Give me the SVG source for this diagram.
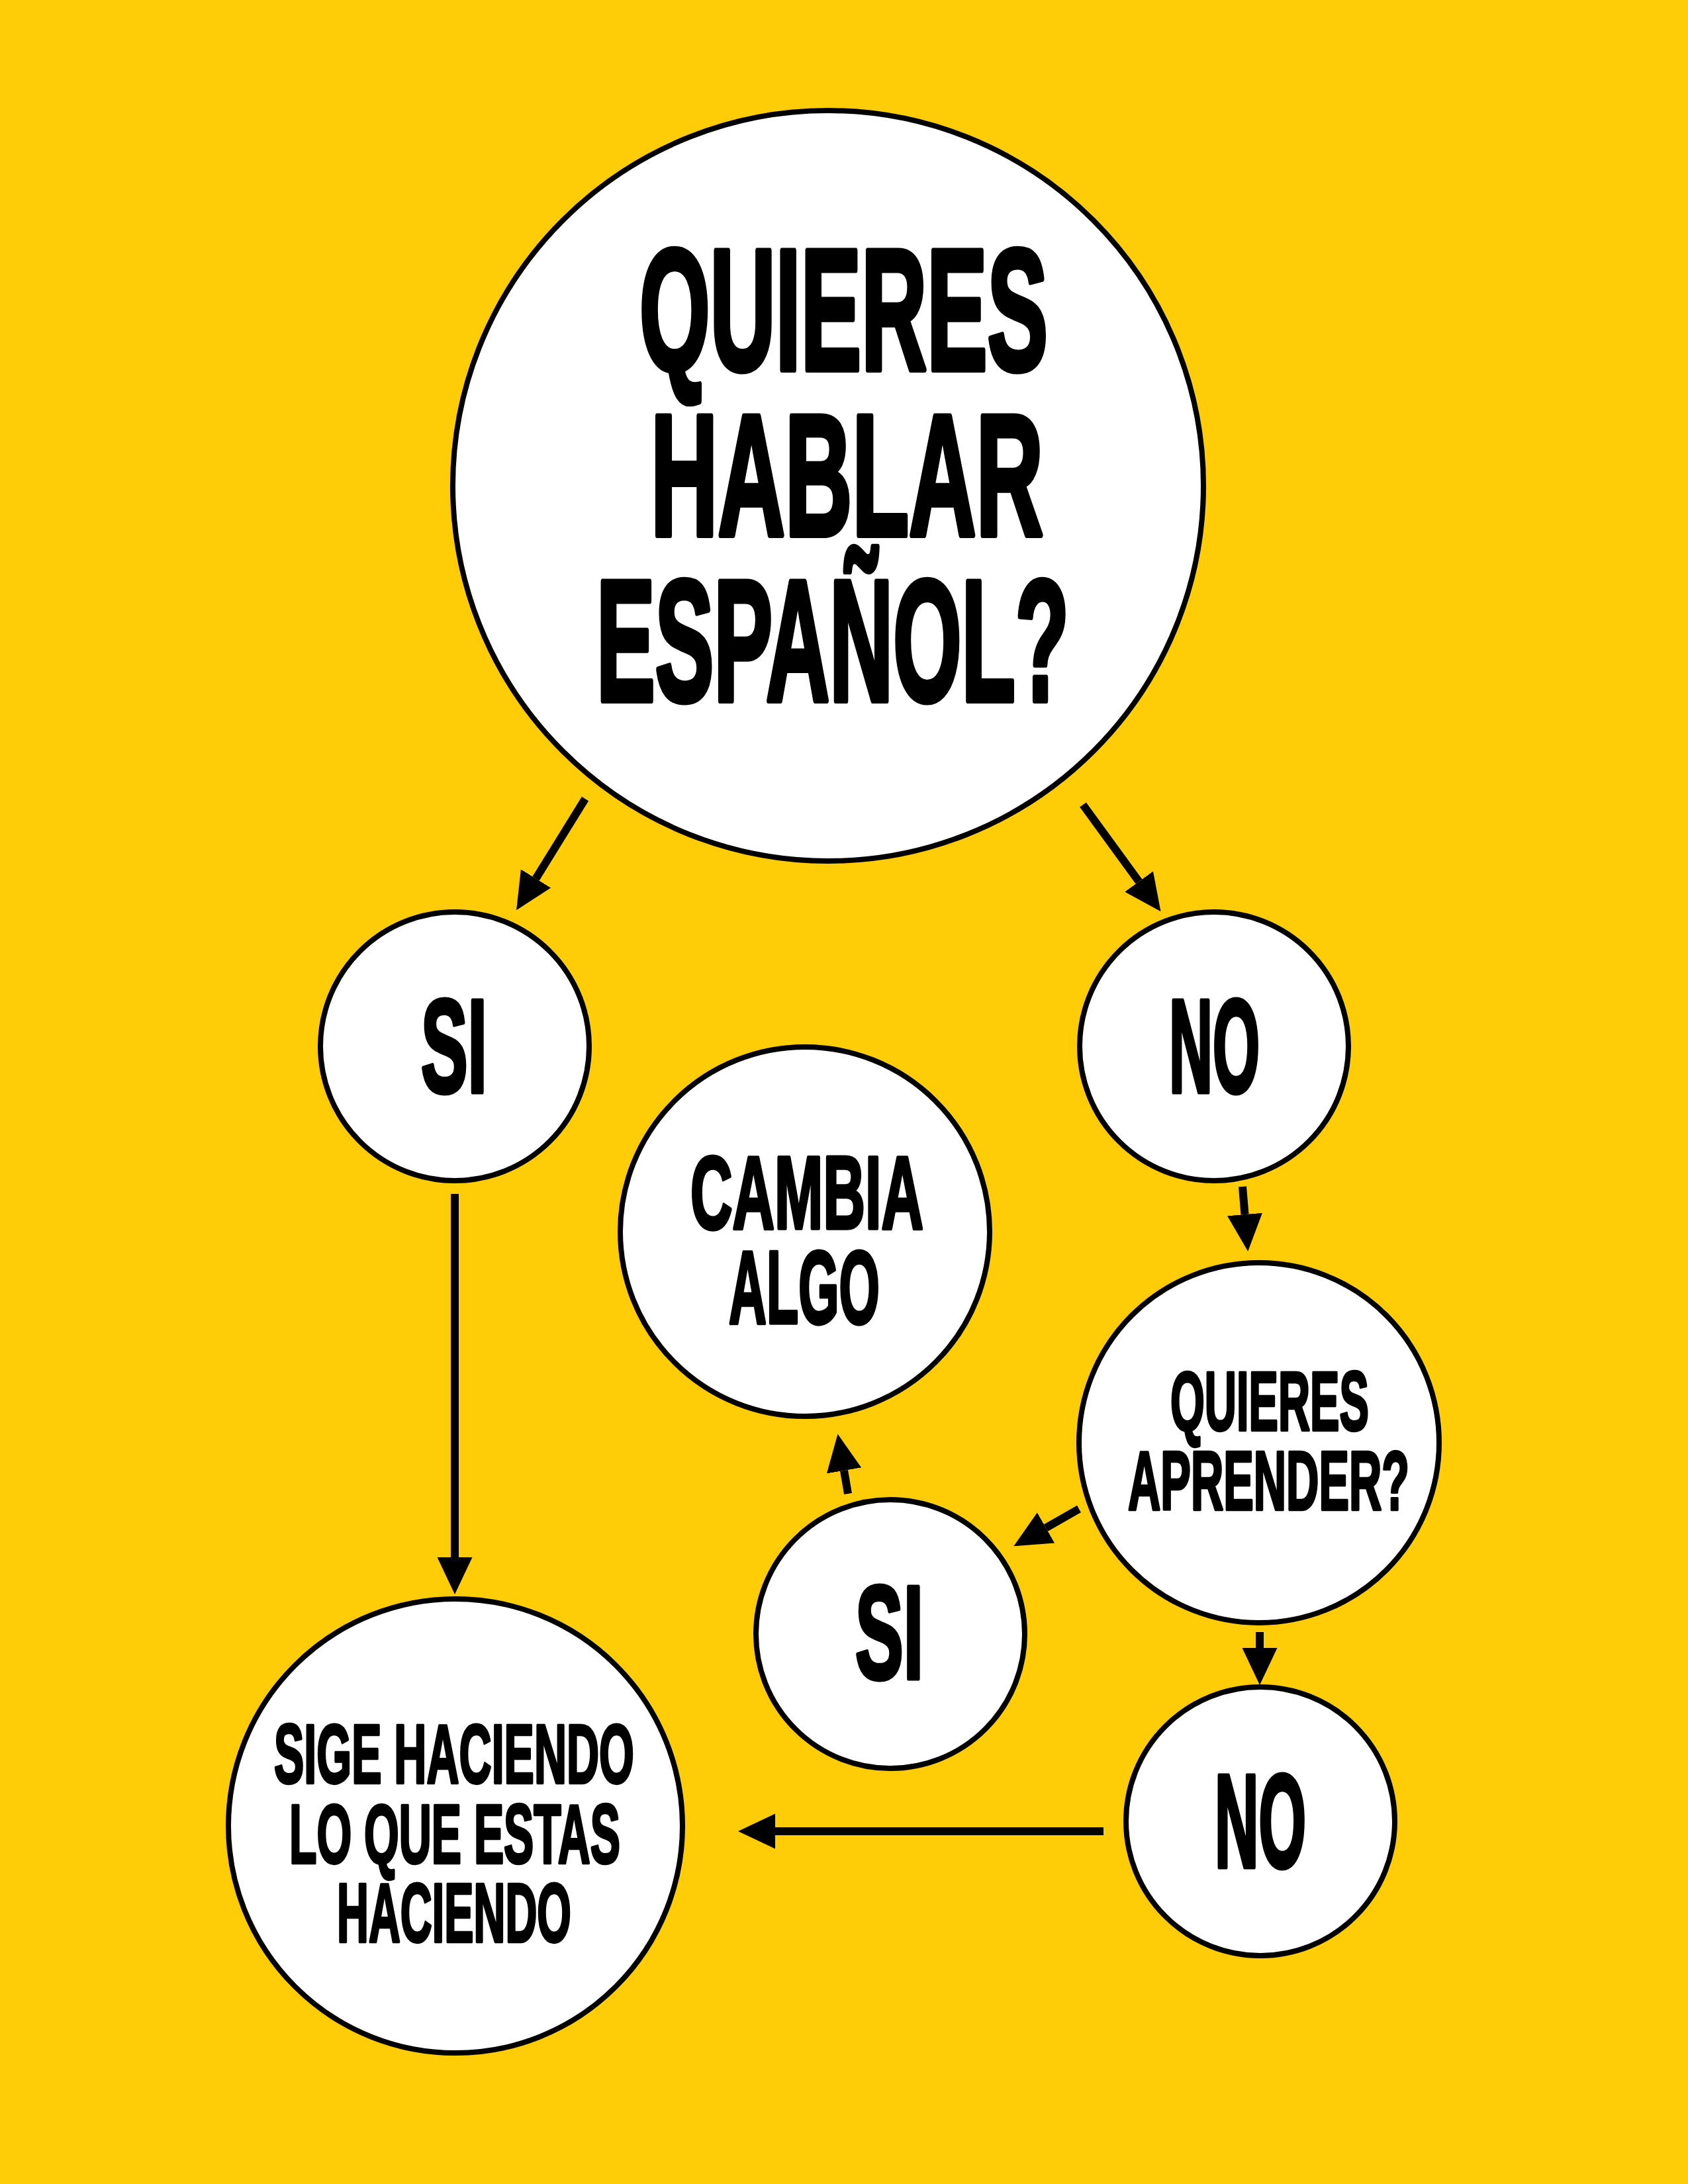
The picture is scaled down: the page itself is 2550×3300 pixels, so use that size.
<svg xmlns="http://www.w3.org/2000/svg" width="2550" height="3300" viewBox="0 0 2550 3300">
<style>
.node circle{fill:#fff;stroke:#000;stroke-width:8}
.lbl{font-family:"Liberation Sans Narrow","Liberation Sans",Arial,sans-serif;font-weight:bold;fill:#000;stroke:#000;stroke-linejoin:round}
.xl{font-size:261px;stroke-width:9}
.lg{font-size:200px;stroke-width:7}
.md{font-size:155px;stroke-width:5.4}
.sm{font-size:127px;stroke-width:4.5}
.conn line{stroke:#000;stroke-width:12;fill:none;marker-end:url(#arrow)}
</style>
<defs>
<marker id="arrow" markerUnits="userSpaceOnUse" viewBox="0 -28 58 56" refX="0" refY="0" markerWidth="58" markerHeight="56" orient="auto">
<path d="M0,-26.5 L56,0 L0,26.5 Z" fill="#000"/>
</marker>
</defs>
<rect x="0" y="0" width="2550" height="3300" fill="#FFCC08"/>
<g id="connectors" class="conn">
<line x1="884" y1="1207" x2="809.5" y2="1327.5"/>
<line x1="1636" y1="1216" x2="1720.5" y2="1332"/>
<line x1="687" y1="1804" x2="687" y2="2353"/>
<line x1="1877" y1="1793" x2="1880.5" y2="1835"/>
<line x1="1630" y1="2280" x2="1580" y2="2308.5"/>
<line x1="1281" y1="2257" x2="1275" y2="2222"/>
<line x1="1903" y1="2466" x2="1903" y2="2490"/>
<line x1="1667" y1="2767" x2="1171" y2="2767"/>
</g>
<g id="n-quieres-hablar" class="node">
<circle cx="1251" cy="734" r="567"/>
<text class="lbl xl"><tspan x="966" y="558.5" textLength="617" lengthAdjust="spacingAndGlyphs">QUIERES</tspan><tspan x="983" y="808.5" textLength="593" lengthAdjust="spacingAndGlyphs">HABLAR</tspan><tspan x="901" y="1058.5" textLength="714" lengthAdjust="spacingAndGlyphs">ESPAÑOL?</tspan></text>
</g>
<g id="n-si-1" class="node">
<circle cx="687" cy="1581" r="203"/>
<text class="lbl lg" x="636" y="1649.5" textLength="100" lengthAdjust="spacingAndGlyphs">SI</text>
</g>
<g id="n-no-1" class="node">
<circle cx="1834" cy="1581" r="203"/>
<text class="lbl lg" x="1766" y="1649.5" textLength="137" lengthAdjust="spacingAndGlyphs">NO</text>
</g>
<g id="n-cambia" class="node">
<circle cx="1216" cy="1861" r="279"/>
<text class="lbl md"><tspan x="1043" y="1856" textLength="352" lengthAdjust="spacingAndGlyphs">CAMBIA</tspan><tspan x="1101" y="1999" textLength="228" lengthAdjust="spacingAndGlyphs">ALGO</tspan></text>
</g>
<g id="n-quieres-aprender" class="node">
<circle cx="1902" cy="2180" r="272"/>
<text class="lbl sm"><tspan x="1768" y="2161" textLength="300" lengthAdjust="spacingAndGlyphs">QUIERES</tspan><tspan x="1704" y="2281" textLength="425" lengthAdjust="spacingAndGlyphs">APRENDER?</tspan></text>
</g>
<g id="n-si-2" class="node">
<circle cx="1345" cy="2469" r="203"/>
<text class="lbl lg" x="1292" y="2535.5" textLength="103" lengthAdjust="spacingAndGlyphs">SI</text>
</g>
<g id="n-no-2" class="node">
<circle cx="1904" cy="2752" r="203"/>
<text class="lbl lg" x="1835" y="2820.5" textLength="138" lengthAdjust="spacingAndGlyphs">NO</text>
</g>
<g id="n-sige" class="node">
<circle cx="688" cy="2759" r="343"/>
<text class="lbl sm"><tspan x="414" y="2694" textLength="544" lengthAdjust="spacingAndGlyphs">SIGE HACIENDO</tspan><tspan x="437" y="2815" textLength="500" lengthAdjust="spacingAndGlyphs">LO QUE ESTAS</tspan><tspan x="509" y="2934" textLength="354" lengthAdjust="spacingAndGlyphs">HACIENDO</tspan></text>
</g>
</svg>
